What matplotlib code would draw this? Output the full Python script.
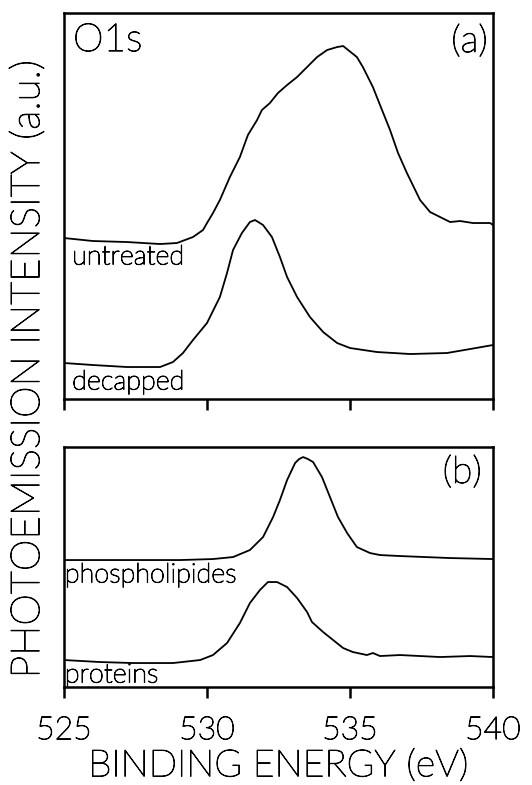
import matplotlib
matplotlib.use("Agg")
import matplotlib.pyplot as plt
import matplotlib.font_manager as fm
import matplotlib.patheffects as pe

# ---- data (binding energy in eV, intensity in arbitrary units) ----
untreated_E = [525.00, 526.01, 527.20, 528.36, 528.95, 529.51, 529.86, 530.00, 530.21, 530.45,
               530.80, 531.15, 531.43, 531.75, 531.92, 532.20, 532.48, 532.80, 533.15, 533.50,
               533.85, 534.20, 534.55, 534.76, 535.24, 535.45, 535.80, 536.12, 536.40, 536.68,
               536.99, 537.45, 537.80, 538.15, 538.50, 538.85, 539.30, 539.90, 540.00]
untreated_I = [161, 158, 157, 155, 156, 162, 169, 176, 186, 199,
               222, 242, 264, 279, 289, 296, 306, 314, 322, 332,
               342, 349, 352, 353, 342, 332, 312, 289, 269, 246,
               226, 199, 187, 182, 177, 178, 176, 176, 174]

decapped_E = [525.00, 526.01, 527.20, 528.36, 528.81, 529.16, 529.51, 530.00, 530.45, 530.70,
              530.91, 531.22, 531.50, 531.68, 531.96, 532.27, 532.55, 532.80, 533.15, 533.60,
              534.06, 534.55, 535.00, 535.94, 537.10, 538.39, 539.20, 540.00]
decapped_I = [36, 34, 32, 32, 37, 46, 59, 76, 102, 126,
              149, 166, 177, 179, 174, 162, 142, 122, 102, 82,
              67, 56, 51, 47, 45, 46, 50, 54]

phospholipides_E = [525.00, 527.20, 529.06, 530.21, 530.91, 531.50, 531.96, 532.31, 532.55, 532.80,
                    533.08, 533.22, 533.36, 533.53, 533.71, 534.02, 534.30, 534.58, 534.90, 535.24,
                    535.70, 536.05, 536.75, 538.50, 540.00]
phospholipides_I = [127, 127, 127, 128, 130, 137, 150, 170, 187, 207,
                    224, 228, 230, 228, 225, 210, 190, 170, 154, 140,
                    134, 132, 131, 129, 128]

proteins_E = [525.00, 526.26, 527.41, 528.81, 529.76, 530.21, 530.70, 531.15, 531.50, 531.85,
              532.13, 532.45, 532.80, 533.15, 533.50, 533.67, 534.06, 534.41, 534.76, 535.10,
              535.59, 535.80, 536.05, 536.75, 537.45, 538.15, 539.20, 540.00]
proteins_I = [27, 25, 24, 24, 27, 32, 44, 64, 84, 97,
              105, 105, 100, 89, 75, 65, 55, 47, 39, 35,
              32, 34, 31, 32, 31, 30, 31, 30]

x_ticks = [525, 530, 535, 540]
x_ticklabels = ["525", "530", "535", "540"]

# ---- font ----
avail = {f.name for f in fm.fontManager.ttflist}
family = "Lato" if "Lato" in avail else "DejaVu Sans"
plt.rcParams["font.family"] = [family, "DejaVu Sans"]
plt.rcParams["font.weight"] = "light"
stroke = [pe.withStroke(linewidth=0.7, foreground="black")]

fig = plt.figure(figsize=(5.32, 7.85), dpi=100)
ax1 = fig.add_axes([0.1203, 0.4917, 0.8064, 0.4917])
ax2 = fig.add_axes([0.1203, 0.1248, 0.8064, 0.3057])

lw = 1.3
ax1.plot(untreated_E, untreated_I, color="black", lw=lw)
ax1.plot(decapped_E, decapped_I, color="black", lw=lw)
ax2.plot(phospholipides_E, phospholipides_I, color="black", lw=lw)
ax2.plot(proteins_E, proteins_I, color="black", lw=lw)

ax1.set_ylim(0, 386)
ax2.set_ylim(0, 240)

for ax in (ax1, ax2):
    ax.set_xlim(525, 540)
    ax.set_xticks(x_ticks)
    ax.set_yticks([])
    for s in ax.spines.values():
        s.set_linewidth(1.8)
    ax.tick_params(axis="x", direction="out", length=8, width=1.8,
                   top=False, bottom=True)

ax1.set_xticklabels([])
ax2.set_xticklabels(x_ticklabels, fontsize=23, fontweight="light")
for t in ax2.get_xticklabels():
    t.set_path_effects(stroke)
ax2.tick_params(axis="x", pad=13)
xl = ax2.set_xlabel("BINDING ENERGY (eV)", fontsize=27, fontweight="light", labelpad=3)
xl.set_path_effects(stroke)

texts = [
    ax1.text(0.021, 0.93, "O1s", transform=ax1.transAxes, fontsize=28,
             ha="left", va="center", fontweight="light"),
    ax1.text(0.988, 0.925, "(a)", transform=ax1.transAxes, fontsize=27,
             ha="right", va="center", fontweight="light"),
    ax1.text(0.019, 0.368, "untreated", transform=ax1.transAxes, fontsize=19.5,
             ha="left", va="center", fontweight="light"),
    ax1.text(0.019, 0.044, "decapped", transform=ax1.transAxes, fontsize=19.5,
             ha="left", va="center", fontweight="light"),
    ax2.text(0.002, 0.467, "phospholipides", transform=ax2.transAxes, fontsize=19.5,
             ha="left", va="center", fontweight="light"),
    ax2.text(0.002, 0.05, "proteins", transform=ax2.transAxes, fontsize=19.5,
             ha="left", va="center", fontweight="light"),
    ax2.text(0.974, 0.892, "(b)", transform=ax2.transAxes, fontsize=27,
             ha="right", va="center", fontweight="light"),
    fig.text(0.053, 0.529, "PHOTOEMISSION INTENSITY (a.u.)", rotation=90,
             fontsize=29, ha="center", va="center", fontweight="light"),
]
for t in texts:
    t.set_path_effects(stroke)

fig.savefig("out.png", dpi=100)
